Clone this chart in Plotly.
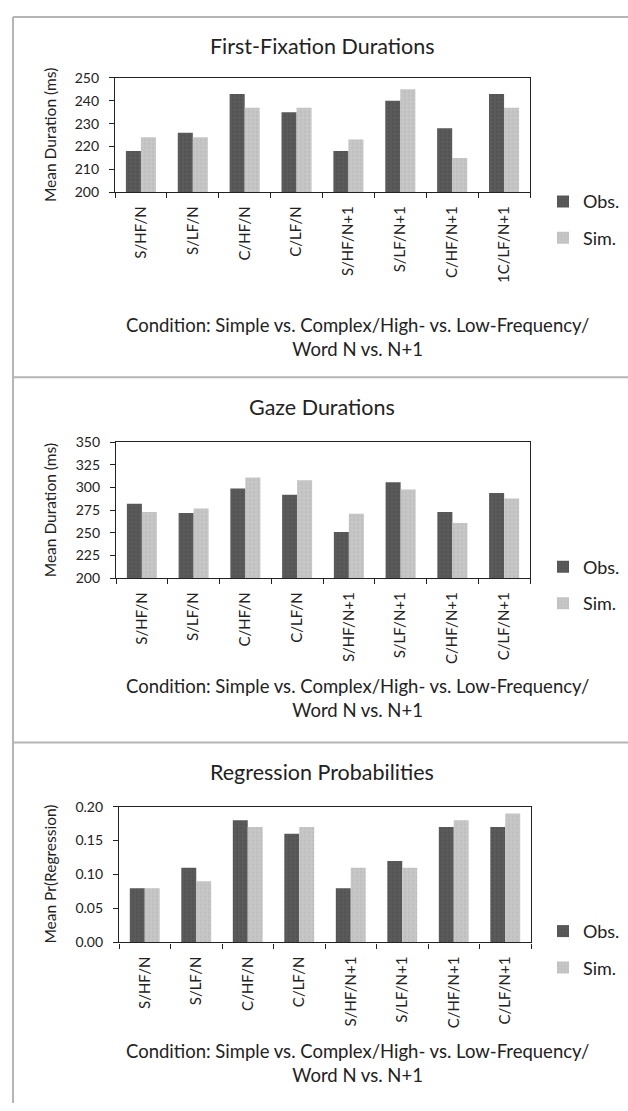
import plotly.graph_objects as go

# ---------------- data ----------------
categories_ffd = ["S/HF/N", "S/LF/N", "C/HF/N", "C/LF/N",
                  "S/HF/N+1", "S/LF/N+1", "C/HF/N+1", "1C/LF/N+1"]
categories = ["S/HF/N", "S/LF/N", "C/HF/N", "C/LF/N",
              "S/HF/N+1", "S/LF/N+1", "C/HF/N+1", "C/LF/N+1"]

ffd_obs = [218, 226, 243, 235, 218, 240, 228, 243]
ffd_sim = [224, 224, 237, 237, 223, 245, 215, 237]

gaze_obs = [282, 272, 299, 292, 251, 306, 273, 294]
gaze_sim = [273, 277, 311, 308, 271, 298, 261, 288]

reg_obs = [0.08, 0.11, 0.18, 0.16, 0.08, 0.12, 0.17, 0.17]
reg_sim = [0.08, 0.09, 0.17, 0.17, 0.11, 0.11, 0.18, 0.19]

series_names = ["Obs.", "Sim."]
panel_titles = ["First-Fixation Durations", "Gaze Durations", "Regression Probabilities"]
y_titles = ["Mean Duration (ms)", "Mean Duration (ms)", "Mean Pr(Regression)"]
x_title = "Condition: Simple vs. Complex/High- vs. Low-Frequency/<br>Word N vs. N+1"

y_ticks_ffd = [200, 210, 220, 230, 240, 250]
y_ticks_gaze = [200, 225, 250, 275, 300, 325, 350]
y_ticks_reg = [0.00, 0.05, 0.10, 0.15, 0.20]

# ---------------- styling / layout ----------------
W, H = 628, 1111
FONT = "Lato, 'Open Sans', sans-serif"
TXT = "#222222"
OBS_COLOR = "#5a5a5a"
SIM_COLOR = "#c6c6c6"
OBS_DOT = "#474747"
SIM_DOT = "#b4b4b4"


def px_x(v):
    return v / W


def px_y(v):
    return 1 - v / H


panels = [
    dict(cats=categories_ffd, obs=ffd_obs, sim=ffd_sim, ticks=y_ticks_ffd, fmt="d",
         top=70, bottom=186, left=115, right=530, T=8, leg=214),
    dict(cats=categories, obs=gaze_obs, sim=gaze_sim, ticks=y_ticks_gaze, fmt="d",
         top=440, bottom=578, left=116, right=530, T=374, leg=585),
    dict(cats=categories, obs=reg_obs, sim=reg_sim, ticks=y_ticks_reg, fmt=".2f",
         top=810, bottom=948, left=119, right=531, T=745, leg=955),
]

fig = go.Figure()
annotations = []
shapes = []

for i, p in enumerate(panels):
    n = "" if i == 0 else str(i + 1)
    xa, ya = "x" + n, "y" + n
    leg = "legend" + n
    for name, vals, col, dot in [(series_names[0], p["obs"], OBS_COLOR, OBS_DOT),
                                 (series_names[1], p["sim"], SIM_COLOR, SIM_DOT)]:
        fig.add_trace(go.Bar(
            x=p["cats"], y=vals, name=name,
            marker=dict(color=col, line=dict(width=0),
                        pattern=dict(shape=".", fgcolor=dot, bgcolor=col,
                                     size=4, solidity=0.25)),
            xaxis=xa, yaxis=ya, legend=leg, legendgroup=name + n,
        ))

    axis_x = dict(
        domain=[px_x(p["left"]), px_x(p["right"])],
        anchor=ya, type="category", tickangle=-90, tickson="boundaries",
        ticks="outside", ticklen=5, tickcolor="#222", showline=True,
        linecolor="#222", linewidth=1.2, mirror=True, showgrid=False,
        tickfont=dict(family=FONT, size=15, color=TXT), ticklabelstandoff=7,
    )
    axis_y = dict(
        domain=[px_y(p["bottom"]), px_y(p["top"])],
        anchor=xa, range=[p["ticks"][0], p["ticks"][-1]],
        tickmode="array", tickvals=p["ticks"],
        ticktext=[format(t, p["fmt"]) for t in p["ticks"]],
        ticks="outside", ticklen=5, tickcolor="#222", showline=True,
        linecolor="#222", linewidth=1.2, mirror=True, showgrid=False,
        zeroline=False, tickfont=dict(family=FONT, size=14, color=TXT),
        ticklabelstandoff=7,
    )
    fig.update_layout(**{"xaxis" + n: axis_x, "yaxis" + n: axis_y})

    fig.update_layout(**{leg: dict(
        x=px_x(543), y=px_y(p["leg"]), xanchor="left", yanchor="middle",
        bgcolor="rgba(0,0,0,0)", font=dict(family=FONT, size=18, color=TXT),
        traceorder="grouped", tracegroupgap=10, itemwidth=30,
    )})

    T = p["T"]
    annotations.append(dict(
        text=panel_titles[i], x=px_x(322), y=px_y(T + 30), xref="paper", yref="paper",
        showarrow=False, xanchor="center", yanchor="middle",
        font=dict(family=FONT, size=21.5, color=TXT)))
    annotations.append(dict(
        text=y_titles[i], x=px_x(50), y=px_y((p["top"] + p["bottom"]) / 2),
        xref="paper", yref="paper", showarrow=False, textangle=-90,
        xanchor="center", yanchor="middle",
        font=dict(family=FONT, size=15.5, color=TXT)))
    annotations.append(dict(
        text=x_title, x=px_x(357), y=px_y(T + 325.5), xref="paper", yref="paper",
        showarrow=False, xanchor="center", yanchor="middle",
        font=dict(family=FONT, size=18.5, color=TXT)))

    # panel separator line
    shapes.append(dict(type="line", xref="paper", yref="paper",
                       x0=px_x(13), x1=1, y0=px_y(T), y1=px_y(T),
                       line=dict(color="#b5b5b5", width=2)))

shapes.append(dict(type="line", xref="paper", yref="paper",
                   x0=px_x(13), x1=px_x(13), y0=0, y1=px_y(8),
                   line=dict(color="#b5b5b5", width=2)))

fig.update_layout(
    width=W, height=H, margin=dict(l=0, r=0, t=0, b=0),
    paper_bgcolor="white", plot_bgcolor="white",
    barmode="group", bargap=0.42, bargroupgap=0,
    annotations=annotations, shapes=shapes, showlegend=True,
)

fig.write_html(
    "out.html",
    config={"displayModeBar": False},
    post_script="document.body.style.margin='0';document.body.style.overflow='hidden';",
)
